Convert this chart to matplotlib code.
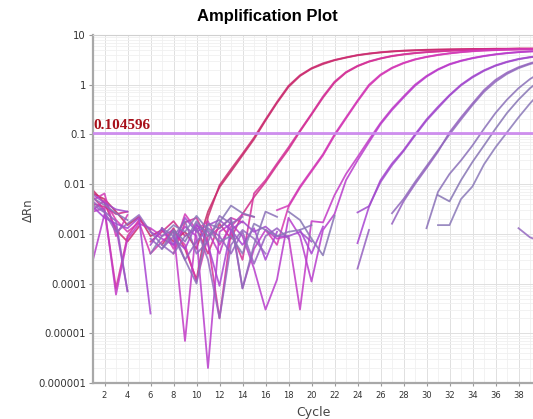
import numpy as np
import matplotlib
matplotlib.use("Agg")
import matplotlib.pyplot as plt
from matplotlib.ticker import FixedLocator, NullFormatter, LogLocator

n = np.nan
cycles = list(range(1, 41))

# Delta Rn per well (cycle 1..40); NaN = not shown (non-positive)
A1 = [0.0065, 0.005, 0.0028, 0.0015, 0.0022, 0.0009, 0.0012, 0.0007, 0.0011, 0.0005,
      0.0028, 0.0087, 0.018, 0.038, 0.08, 0.19, 0.43, 0.9, 1.5, 2.1,
      2.6, 3.1, 3.5, 3.9, 4.2, 4.45, 4.65, 4.8, 4.9, 5.0,
      5.05, 5.1, 5.15, 5.2, 5.2, 5.25, 5.25, 5.3, 5.3, 5.3]
A2 = [0.0075, 0.0042, 0.0012, 0.0007, 0.0014, n, 0.0006, 0.0013, 0.0005, 0.00012,
      0.0022, 0.0095, 0.02, 0.041, 0.086, 0.2, 0.45, 0.95, 1.55, 2.15,
      2.7, 3.15, 3.55, 3.95, 4.25, 4.5, 4.7, 4.85, 4.95, 5.05,
      5.1, 5.15, 5.2, 5.25, 5.25, 5.3, 5.3, 5.35, 5.35, 5.35]
B1 = [0.004, 0.0035, 0.0025, 0.0028, n, 0.0007, 0.0011, 0.0018, 0.0009, 0.0013,
      0.0004, 0.0016, 0.0008, 0.0025, 0.0055, 0.011, 0.024, 0.05, 0.115, 0.25,
      0.55, 1.1, 1.75, 2.35, 2.9, 3.35, 3.75, 4.05, 4.3, 4.5,
      4.65, 4.8, 4.9, 5.0, 5.05, 5.1, 5.15, 5.2, 5.2, 5.25]
B2 = [0.0055, 0.003, 0.00008, 0.0009, 0.0019, 0.0012, n, 0.0004, 0.0017, 0.0021,
      0.0007, 0.00002, 0.0011, 0.0003, 0.0065, 0.012, 0.026, 0.055, 0.12, 0.26,
      0.58, 1.15, 1.8, 2.4, 2.95, 3.4, 3.8, 4.1, 4.35, 4.55,
      4.7, 4.85, 4.95, 5.05, 5.1, 5.15, 5.2, 5.25, 5.25, 5.3]
C1 = [0.003, 0.0047, 0.0019, 0.0011, 0.0017, 0.0004, 0.0007, 0.0011, 0.0006, 0.00011,
      0.0009, 0.0013, 0.0021, 0.0017, n, 0.0012, 0.0006, 0.0035, 0.0085, 0.018,
      0.038, 0.095, 0.21, 0.46, 0.95, 1.55, 2.15, 2.7, 3.2, 3.6,
      3.95, 4.25, 4.5, 4.7, 4.85, 4.95, 5.05, 5.1, 5.15, 5.2]
C2 = [0.0048, 0.0065, 0.0009, 0.0024, n, n, 0.0013, 0.0005, 0.0025, 0.0012,
      0.0018, 0.0006, 0.0014, 0.0025, 0.0022, n, 0.003, 0.0037, 0.009, 0.019,
      0.04, 0.1, 0.22, 0.48, 1.0, 1.6, 2.2, 2.75, 3.25, 3.65,
      4.0, 4.3, 4.55, 4.75, 4.9, 5.0, 5.1, 5.15, 5.2, 5.25]
D1 = [0.0028, 0.0033, 0.00006, 0.0008, 0.0016, 0.0013, 0.0009, 0.0012, 0.000007, 0.0015,
      0.0011, 0.0004, 0.0019, 0.00008, 0.0005, 0.0012, 0.0008, 0.0009, 0.00003, 0.0018,
      0.0017, 0.006, 0.016, 0.035, 0.078, 0.17, 0.33, 0.58, 1.0, 1.5,
      2.05, 2.6, 3.05, 3.45, 3.8, 4.1, 4.35, 4.55, 4.7, 4.8]
D2 = [0.0003, 0.0025, 0.0014, 0.00007, n, 0.0011, 0.0008, 0.0006, 0.0014, 0.0009,
      0.000002, 0.0011, 0.0016, 0.0009, 0.0002, 0.00003, 0.00012, 0.0021, 0.0009, 0.00011,
      0.0012, 0.0025, 0.012, 0.03, 0.07, 0.16, 0.31, 0.55, 0.95, 1.45,
      2.0, 2.55, 3.0, 3.4, 3.75, 4.05, 4.3, 4.5, 4.65, 4.75]
E1 = [0.0035, 0.0021, 0.0016, 0.0013, 0.0021, 0.000025, n, 0.0008, 0.0005, 0.0016,
      0.0006, 0.00009, 0.0012, 0.0006, 0.0013, 0.0003, 0.0011, n, 0.0012, 0.0004,
      0.0014, n, n, 0.00065, 0.0035, 0.012, 0.026, 0.048, 0.1, 0.2,
      0.36, 0.62, 1.0, 1.45, 1.95, 2.45, 2.9, 3.3, 3.6, 3.85]
E2 = [0.0062, 0.0042, 0.0031, 0.0028, n, 0.0006, 0.0013, 0.0006, 0.0021, 0.0011,
      0.0015, 0.0019, 0.0012, 0.0018, 0.0011, 0.0014, 0.0009, 0.0009, 0.0011, 0.0007,
      n, n, n, 0.0027, 0.0036, 0.011, 0.024, 0.046, 0.095, 0.19,
      0.34, 0.6, 0.97, 1.4, 1.9, 2.4, 2.85, 3.25, 3.55, 3.8]
F1 = [0.0045, 0.0028, 0.0018, 0.00007, n, 0.0008, 0.0005, 0.0009, 0.0003, 0.0007,
      0.0013, 0.0009, 0.0004, 0.0011, 0.00025, 0.0009, 0.0013, 0.0008, n, n,
      n, n, n, 0.0002, 0.0012, n, 0.0016, 0.0045, 0.01, 0.021,
      0.045, 0.11, 0.22, 0.42, 0.78, 1.25, 1.75, 2.25, 2.7, 3.1]
F2 = [n, n, n, n, n, n, 0.0013, 0.0009, 0.0018, 0.0004,
      0.0007, 0.0023, 0.0016, 0.0022, n, n, n, n, n, n,
      n, n, n, n, n, n, 0.0026, 0.005, 0.011, 0.023,
      0.048, 0.1, 0.2, 0.39, 0.72, 1.15, 1.65, 2.15, 2.6, 3.0]
G1 = [0.0052, 0.0038, 0.0026, 0.0019, n, n, n, 0.0011, 0.0003, 0.0001,
      0.0016, 0.0013, 0.0021, 0.00008, 0.0006, 0.0028, 0.0022, n, n, n,
      n, n, n, n, n, n, n, n, n, 0.0013,
      0.007, 0.016, 0.03, 0.06, 0.13, 0.27, 0.5, 0.85, 1.3, 1.8]
G2 = [n, n, n, n, n, n, 0.0005, 0.0012, 0.0007, 0.0018,
      0.0009, 0.0017, 0.0037, 0.0026, 0.0022, n, n, 0.0028, 0.0019, 0.0008,
      0.00037, 0.0023, n, n, n, n, n, n, n, n,
      0.006, 0.0045, 0.012, 0.028, 0.06, 0.13, 0.27, 0.5, 0.85, 1.3]
G3 = [n, n, n, n, n, 0.0004, 0.0009, 0.0015, 0.0011, 0.0023,
      0.0012, 0.0007, 0.0009, 0.0004, 0.0016, 0.0012, 0.0009, 0.0011, 0.0012, 0.0015,
      n, n, n, n, n, n, n, n, n, n,
      0.0015, 0.0015, 0.005, 0.009, 0.025, 0.055, 0.11, 0.22, 0.42, 0.75]
H1 = [0.0038, 0.0027, 0.0011, 0.0016, 0.0024, 0.0011, 0.0006, 0.0004, 0.0009, 0.0013,
      0.0003, 0.00002, 0.0006, 0.0012, 0.0008, 0.0004, n, n, n, n,
      n, n, n, n, n, n, n, n, n, n,
      n, n, n, n, n, n, n, 0.0013, 0.00085, 0.0007]

wells = [A1, A2, B1, B2, C1, C2, D1, D2, E1, E2, F1, F2, G1, G2, G3, H1]
well_colors = ['#c42a66', '#cc2a70', '#d02c86', '#d4309a', '#d636b0', '#d23ab8',
               '#c23ac6', '#b83ccc', '#a844d2', '#a04ccc', '#9460c0', '#9068bc',
               '#8a70b8', '#8674b4', '#8a78b8', '#9468c0']

threshold = 0.104596
threshold_label = "0.104596"
y_ticks = [1e-6, 1e-5, 1e-4, 1e-3, 1e-2, 1e-1, 1, 10]
y_tick_labels = ["0.000001", "0.00001", "0.0001", "0.001", "0.01", "0.1", "1", "10"]
x_ticks = list(range(2, 39, 2))
x_tick_labels = [str(v) for v in x_ticks]

fig = plt.figure(figsize=(5.33, 4.19), dpi=100)
ax = fig.add_axes([93 / 533, 36 / 419, 448.5 / 533, 348 / 419])

ax.set_yscale('log')
ax.set_xlim(1, 40)
ax.set_ylim(1e-6, 10)

ax.set_yticks(y_ticks)
ax.set_yticklabels(y_tick_labels)
ax.yaxis.set_minor_locator(LogLocator(base=10, subs=np.arange(2, 10)))
ax.yaxis.set_minor_formatter(NullFormatter())
ax.set_xticks(x_ticks)
ax.set_xticklabels(x_tick_labels)
ax.xaxis.set_minor_locator(FixedLocator(list(range(1, 41))))

ax.grid(which='minor', color='#f0f0f0', lw=0.6, ls='-')
ax.grid(which='major', color='#e0e0e0', lw=0.7, ls='-')
ax.set_axisbelow(True)

ax.spines['right'].set_visible(False)
ax.spines['top'].set_color('#d0d0d0')
ax.spines['top'].set_linewidth(0.8)
ax.spines['left'].set_color('#a8a8a8')
ax.spines['left'].set_linewidth(1.6)
ax.spines['bottom'].set_color('#a8a8a8')
ax.spines['bottom'].set_linewidth(1.6)

ax.tick_params(axis='y', which='major', labelsize=7.3, colors='#333333', length=3,
               width=0.8, pad=2, color='#999999')
ax.tick_params(axis='x', which='major', labelsize=6, colors='#333333', length=2.5,
               width=0.8, pad=3, color='#999999')
ax.tick_params(which='minor', length=0)

x = np.array(cycles)
for vals, c in zip(wells, well_colors):
    ax.plot(x, np.array(vals, dtype=float), color=c, lw=1.3, alpha=0.85)

ax.axhline(threshold, color='#cc88ee', lw=2.0, alpha=0.95, zorder=3)
ax.text(1.05, threshold * 1.08, threshold_label, color='#a8101a', fontsize=11,
        fontweight='bold', family='Liberation Serif', ha='left', va='bottom', zorder=4)

ax.set_ylabel('ΔRn', fontsize=8.5, color='#444444')
ax.yaxis.set_label_coords((35 - 93) / 448.5, (383 - 210) / 348)
ax.set_xlabel('Cycle', fontsize=9, color='#444444')
ax.xaxis.set_label_coords((313 - 93) / 448.5, -0.065)

fig.text(267 / 533, 1 - 17 / 419, 'Amplification Plot', ha='center', va='center',
         fontsize=12, fontweight='bold', family='Liberation Sans')

fig.savefig('out.png', dpi=100)
